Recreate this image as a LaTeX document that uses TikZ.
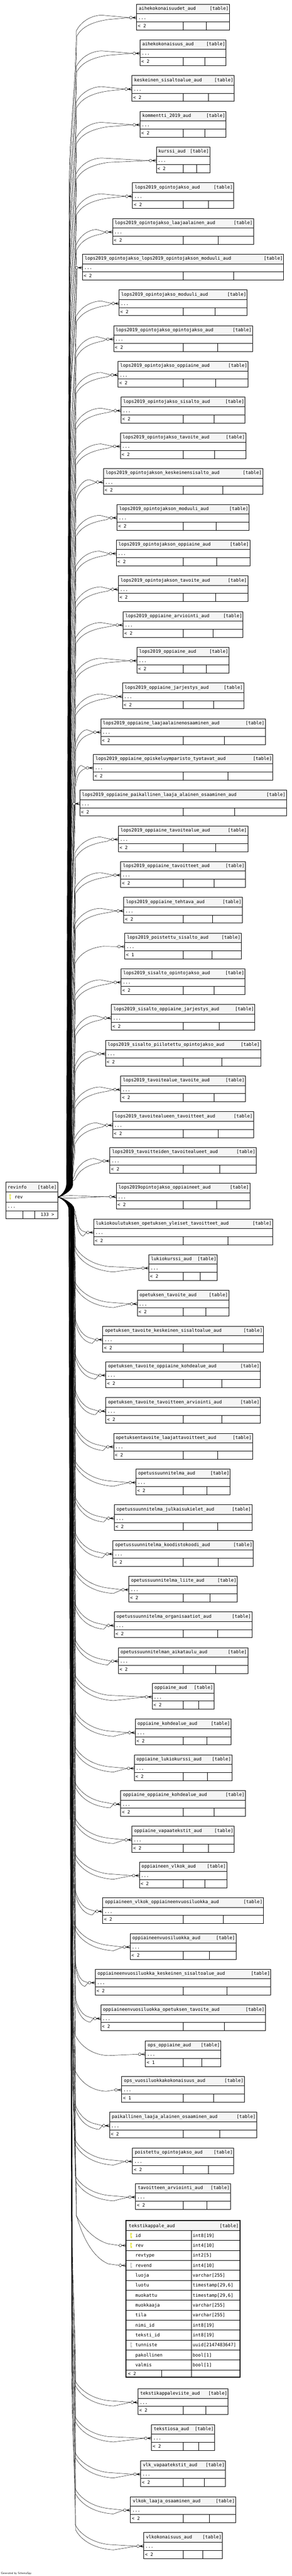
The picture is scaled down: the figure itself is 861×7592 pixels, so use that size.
\documentclass[tikz,border=0pt]{standalone}
\usepackage{fontspec}
\setmonofont{DejaVu Sans Mono}
\usetikzlibrary{calc}
\definecolor{hdr}{HTML}{F5F5F5}
\definecolor{keyy}{HTML}{DCDC00}
\definecolor{keyg}{HTML}{B4B4B4}
\tikzset{
 tline/.style={line width=0.9pt},
 conn/.style={line width=0.7pt},
 hdrbox/.style={draw, fill=hdr, line width=0.9pt, minimum height=28pt, inner sep=0pt, outer sep=0pt},
 rowbox/.style={draw, fill=white, line width=0.9pt, minimum height=24pt, inner sep=0pt, outer sep=0pt},
 txt/.style={font=\fontsize{13.3}{15}\selectfont\ttfamily, inner sep=0pt, outer sep=0pt},
}
\def\rskfoota{< 2}\def\rskfootb{< 2}\def\rskfoots{< 2}\def\rskfootv{< 2}
\def\rskfootu{< 1}\def\rskfootd{< 1}
\newcommand\rskkey[3]{%
  \fill[#3] (#1,#2+9.5) circle[radius=3];
  \fill[white] (#1,#2+9.5) circle[radius=1.3];
  \fill[#3] (#1-0.9,#2+12) rectangle (#1+0.9,#2+22);
  \fill[#3] (#1+0.9,#2+17) rectangle (#1+2.6,#2+18.6);
  \fill[#3] (#1+0.9,#2+20) rectangle (#1+2.6,#2+21.5);
}
\newcommand\rskcrow{%
  \draw[conn,fill=white] ($(\tid.west)+(-16.7,0)$) circle[radius=4];
  \draw[conn] ($(\tid.west)+(-12.7,0)$) -- (\tid.west);
  \draw[conn] ($(\tid.west)+(-11.5,0)$) -- ($(\tid.west)+(0,-4.5)$);
  \draw[conn] ($(\tid.west)+(-11.5,0)$) -- ($(\tid.west)+(0,4.5)$);
}
\newcommand\rskcrowfill{\fill ($(\tid.west)+(-12.5,0)$) -- ($(\tid.west)+(-5.5,-2.8)$) -- ($(\tid.west)+(-5.5,2.8)$) -- cycle;}
% edge going up from the bundle
\newcommand\rskup[8]{%
  \pgfmathsetmacro\ky{\tY+(#2)}%
  \pgfmathsetmacro\sy{max(\ky,min(3480,\ky+450))}%
  \pgfmathsetmacro\sx{\bx+#1+(3490-\sy)/349}%
  \pgfmathsetmacro\cd{(\sy-\ky)/3}%
  \pgfmathsetmacro\pax{\kx+#1+\ff*#3}\pgfmathsetmacro\pay{\tY+(#4)}%
  \pgfmathsetmacro\pbx{\kx+\ff*#5}\pgfmathsetmacro\pby{\tY+(#6)}%
  \pgfmathsetmacro\pcx{\kx+\ff*#7}\pgfmathsetmacro\pcy{\tY+(#8)}%
  \draw[conn] (rv.east) .. controls ($(rv.east)+(6,0)$) and (\bx+#1,3510) .. (\bx+#1,3490) -- (\sx,\sy)
     .. controls (\sx,\sy-\cd) and (\kx+#1,\ky+\cd) .. (\kx+#1,\ky)
     .. controls (\pax,\pay) and (\pbx,\pby) .. (\pcx,\pcy)
     -- ($(\tid.west)+(-20.7,0)$);
}
% edge going down from the bundle
\newcommand\rskdn[8]{%
  \pgfmathsetmacro\ky{\tY+(#2)}%
  \pgfmathsetmacro\sy{min(\ky,max(3575,\ky-450))}%
  \pgfmathsetmacro\sx{\bx+#1+(\sy-3565)/390}%
  \pgfmathsetmacro\cd{(\ky-\sy)/3}%
  \pgfmathsetmacro\pax{\kx+#1+\ff*#3}\pgfmathsetmacro\pay{\tY+(#4)}%
  \pgfmathsetmacro\pbx{\kx+\ff*#5}\pgfmathsetmacro\pby{\tY+(#6)}%
  \pgfmathsetmacro\pcx{\kx+\ff*#7}\pgfmathsetmacro\pcy{\tY+(#8)}%
  \draw[conn] (rv.east) .. controls ($(rv.east)+(6,0)$) and (\bx+#1,3545) .. (\bx+#1,3565) -- (\sx,\sy)
     .. controls (\sx,\sy+\cd) and (\kx+#1,\ky-\cd) .. (\kx+#1,\ky)
     .. controls (\pax,\pay) and (\pbx,\pby) .. (\pcx,\pcy)
     -- ($(\tid.west)+(-20.7,0)$);
}
\newcommand\rskupvars{%
  \pgfmathsetmacro\bx{196+\tT/3400*18}%
  \pgfmathsetmacro\kx{225-\tT/3400*5}%
  \pgfmathsetmacro\ff{min(1,max(0.12,(\tL-31-\kx)/95))}%
}
\newcommand\rskdnvars{%
  \pgfmathsetmacro\bx{218-(\tT-3592)/3872*15}%
  \def\kx{222}%
  \pgfmathsetmacro\ff{min(1,max(0.12,(\tL-253)/113))}%
}
\newcommand\rskedgea{\rskupvars
  \rskup{0}{40}{10}{18}{37}{-6}{75}{-7.4}%
  \rskup{1.5}{55}{12}{33}{37}{14}{95}{5.5}%
  \rskcrowfill}
\newcommand\rskedgeu{\rskupvars
  \rskup{0.7}{50}{11}{26}{37}{4}{85}{-1}}
\newcommand\rskedgeb{\rskdnvars
  \rskdn{0}{-64}{8}{-45}{40}{-12}{98}{-5}%
  \rskdn{1.5}{-48}{9}{-30}{40}{6}{113}{11}%
  \rskcrowfill}
\newcommand\rskedged{\rskdnvars
  \rskdn{0.7}{-55}{10}{-35}{40}{2}{98}{4}}
\newcommand\rskedges{%
  \draw[conn] (rv.east) .. controls ($(rv.east)+(30,-9)$) and ($(\tid.west)+(-100,0)$) .. ($(\tid.west)+(-20.7,0)$);
  \draw[conn] (rv.east) .. controls ($(rv.east)+(30,8)$) and ($(\tid.west)+(-100,0)$) .. ($(\tid.west)+(-20.7,0)$);
  \rskcrowfill}
\newcommand\rskvl[1]{%
  \pgfmathsetmacro\ky{\tY+4}%
  \pgfmathsetmacro\sy{\ky+450}%
  \pgfmathsetmacro\sx{\bx+#1+(3490-\sy)/349}%
  \pgfmathsetmacro\ex{\cx+#1*0.5}%
  \draw[conn] (rv.east) .. controls ($(rv.east)+(6,0)$) and (\bx+#1,3510) .. (\bx+#1,3490) -- (\sx,\sy)
     .. controls (\sx,\sy-150) and (\ex,\ky+150) .. (\ex,\ky);
}
\newcommand\rskedgev{%
  \pgfmathsetmacro\bx{196+\tT/3400*18}%
  \pgfmathsetmacro\cx{\tL-16.7}%
  \rskvl{0}\rskvl{1.2}\rskcrowfill}
% table: id, name, left, top, mode
\newcommand\tbl[5]{%
  \def\tid{#1}%
  \pgfmathsetmacro\tL{#3}%
  \pgfmathsetmacro\tT{#4}%
  \pgfmathsetmacro\tR{1081-\tL}%
  \pgfmathsetmacro\tM{(540.5+\tR)/2}%
  \pgfmathsetmacro\tW{\tR-\tL}%
  \pgfmathsetmacro\tY{\tT+40}%
  \node[hdrbox, minimum width=\tW pt, anchor=north west] (#1-h) at (\tL,\tT) {};
  \node[rowbox, minimum width=\tW pt, anchor=north west] (#1) at (\tL,\tT+28) {};
  \node[rowbox, minimum width=\tW pt, anchor=north west] (#1-f) at (\tL,\tT+52) {};
  \draw[tline] (540.5,\tT+52) -- (540.5,\tT+76);
  \draw[tline] (\tM,\tT+52) -- (\tM,\tT+76);
  \node[txt, anchor=base west] (#1-n) at (\tL+7,\tT+17.5) {#2};
  \node[txt, anchor=base east] (#1-k) at (\tR-2.5,\tT+17.5) {[table]};
  \node[txt, anchor=base west] (#1-d) at (\tL+5,\tT+45) {...};
  \node[txt, anchor=base west] (#1-c) at (\tL+4,\tT+69) {\csname rskfoot#5\endcsname};
  \csname rskedge#5\endcsname
  \rskcrow
}
\def\rsknone{none}
\newcommand\tkrow[4]{%
  \pgfmathsetmacro\rt{6573.7+29.34*(#1-1)}%
  \node[anchor=north west, minimum width=337pt, minimum height=29.34pt, inner sep=0pt, outer sep=0pt] (tk#1) at (372,\rt) {};
  \draw[tline] (372,\rt+29.34) -- (709,\rt+29.34);
  \node[txt, anchor=base west] (tk#1-n) at (400,\rt+19.5) {#2};
  \node[txt, anchor=base west] (tk#1-t) at (569.3,\rt+19.5) {#3};
  \def\rskarg{#4}\ifx\rskarg\rsknone\else\rskkey{387}{\rt}{#4}\fi
}
\begin{document}
\begin{tikzpicture}[x=1pt,y=-1pt]
\useasboundingbox (0,0) rectangle (861,7592);
\fill[white] (0,0) rectangle (861,7592);
% revinfo (parent)
\node[hdrbox, minimum width=153.4pt, minimum height=29pt, anchor=north west] (rv-h) at (17.3,3484) {};
\node[rowbox, minimum width=153.4pt, minimum height=30pt, anchor=north west] (rv) at (17.3,3513) {};
\node[rowbox, minimum width=153.4pt, minimum height=25pt, anchor=north west] (rv-d) at (17.3,3543) {};
\node[rowbox, minimum width=153.4pt, minimum height=23pt, anchor=north west] (rv-f) at (17.3,3568) {};
\draw[tline] (66.7,3568) -- (66.7,3591);
\draw[tline] (101.7,3568) -- (101.7,3591);
\node[txt, anchor=base west] (rv-n) at (22.7,3503) {revinfo};
\node[txt, anchor=base east] (rv-k) at (167.5,3503) {[table]};
\rskkey{30}{3513}{keyy}
\node[txt, anchor=base west] (rv-c) at (43.3,3533) {rev};
\node[txt, anchor=base west] (rv-dd) at (22,3560) {...};
\node[txt, anchor=base east] (rv-x) at (160,3584) {133 >};

\tbl{t1}{aihekokonaisuudet\_aud}{403.3}{12}{a}
\tbl{t2}{aihekokonaisuus\_aud}{413.3}{117.3}{a}
\tbl{t3}{keskeinen\_sisaltoalue\_aud}{389.3}{222.6}{a}
\tbl{t4}{kommentti\_2019\_aud}{413.3}{327.9}{a}
\tbl{t5}{kurssi\_aud}{461.3}{433.2}{a}
\tbl{t6}{lops2019\_opintojakso\_aud}{391.3}{538.5}{a}
\tbl{t7}{lops2019\_opintojakso\_laajaalainen\_aud}{332.3}{643.8}{a}
\tbl{t8}{lops2019\_opintojakso\_lops2019\_opintojakson\_moduuli\_aud}{243.3}{749.1}{v}
\tbl{t9}{lops2019\_opintojakso\_moduuli\_aud}{351.3}{854.4}{a}
\tbl{t10}{lops2019\_opintojakso\_opintojakso\_aud}{335.3}{959.7}{a}
\tbl{t11}{lops2019\_opintojakso\_oppiaine\_aud}{348.3}{1065}{a}
\tbl{t12}{lops2019\_opintojakso\_sisalto\_aud}{357.3}{1170.3}{a}
\tbl{t13}{lops2019\_opintojakso\_tavoite\_aud}{355.3}{1275.6}{a}
\tbl{t14}{lops2019\_opintojakson\_keskeinensisalto\_aud}{305.3}{1380.9}{a}
\tbl{t15}{lops2019\_opintojakson\_moduuli\_aud}{345.3}{1486.2}{a}
\tbl{t16}{lops2019\_opintojakson\_oppiaine\_aud}{343.3}{1591.5}{a}
\tbl{t17}{lops2019\_opintojakson\_tavoite\_aud}{349.3}{1696.8}{a}
\tbl{t18}{lops2019\_oppiaine\_arviointi\_aud}{363.3}{1802.1}{a}
\tbl{t19}{lops2019\_oppiaine\_aud}{404.3}{1907.4}{a}
\tbl{t20}{lops2019\_oppiaine\_jarjestys\_aud}{361.3}{2012.7}{a}
\tbl{t21}{lops2019\_oppiaine\_laajaalainenosaaminen\_aud}{297.3}{2118}{a}
\tbl{t22}{lops2019\_oppiaine\_opiskeluymparisto\_tyotavat\_aud}{275.3}{2223.3}{a}
\tbl{t23}{lops2019\_oppiaine\_paikallinen\_laaja\_alainen\_osaaminen\_aud}{235.3}{2328.6}{v}
\tbl{t24}{lops2019\_oppiaine\_tavoitealue\_aud}{349.3}{2433.9}{a}
\tbl{t25}{lops2019\_oppiaine\_tavoitteet\_aud}{356.3}{2539.2}{a}
\tbl{t26}{lops2019\_oppiaine\_tehtava\_aud}{365.3}{2644.5}{a}
\tbl{t27}{lops2019\_poistettu\_sisalto\_aud}{368.3}{2749.8}{u}
\tbl{t28}{lops2019\_sisalto\_opintojakso\_aud}{357.3}{2855.1}{a}
\tbl{t29}{lops2019\_sisalto\_oppiaine\_jarjestys\_aud}{328.3}{2960.4}{a}
\tbl{t30}{lops2019\_sisalto\_piilotettu\_opintojakso\_aud}{311.3}{3065.7}{a}
\tbl{t31}{lops2019\_tavoitealue\_tavoite\_aud}{356.3}{3171}{a}
\tbl{t32}{lops2019\_tavoitealueen\_tavoitteet\_aud}{332.3}{3276.3}{a}
\tbl{t33}{lops2019\_tavoitteiden\_tavoitealueet\_aud}{324.3}{3381.6}{a}
\tbl{t34}{lops2019opintojakso\_oppiaineet\_aud}{343.3}{3486.9}{s}
\tbl{t35}{lukiokoulutuksen\_opetuksen\_yleiset\_tavoitteet\_aud}{276.3}{3592.2}{b}
\tbl{t36}{lukiokurssi\_aud}{439.3}{3697.5}{b}
\tbl{t37}{opetuksen\_tavoite\_aud}{405.3}{3802.8}{b}
\tbl{t38}{opetuksen\_tavoite\_keskeinen\_sisaltoalue\_aud}{303.3}{3908.1}{b}
\tbl{t39}{opetuksen\_tavoite\_oppiaine\_kohdealue\_aud}{312.3}{4013.4}{b}
\tbl{t40}{opetuksen\_tavoite\_tavoitteen\_arviointi\_aud}{312.3}{4118.7}{b}
\tbl{t41}{opetuksentavoite\_laajattavoitteet\_aud}{335.3}{4224}{b}
\tbl{t42}{opetussuunnitelma\_aud}{401.3}{4329.3}{b}
\tbl{t43}{opetussuunnitelma\_julkaisukielet\_aud}{337.3}{4434.6}{b}
\tbl{t44}{opetussuunnitelma\_koodistokoodi\_aud}{333.3}{4539.9}{b}
\tbl{t45}{opetussuunnitelma\_liite\_aud}{380.3}{4645.2}{b}
\tbl{t46}{opetussuunnitelma\_organisaatiot\_aud}{337.3}{4750.5}{b}
\tbl{t47}{opetussuunnitelman\_aikataulu\_aud}{349.3}{4855.8}{b}
\tbl{t48}{oppiaine\_aud}{449.3}{4961.1}{b}
\tbl{t49}{oppiaine\_kohdealue\_aud}{399.3}{5066.4}{b}
\tbl{t50}{oppiaine\_lukiokurssi\_aud}{396.3}{5171.7}{b}
\tbl{t51}{oppiaine\_oppiaine\_kohdealue\_aud}{356.3}{5277}{b}
\tbl{t52}{oppiaine\_vapaatekstit\_aud}{389.3}{5382.3}{b}
\tbl{t53}{oppiaineen\_vlkok\_aud}{411.3}{5487.6}{b}
\tbl{t54}{oppiaineen\_vlkok\_oppiaineenvuosiluokka\_aud}{303.3}{5592.9}{b}
\tbl{t55}{oppiaineenvuosiluokka\_aud}{384.3}{5698.2}{b}
\tbl{t56}{oppiaineenvuosiluokka\_keskeinen\_sisaltoalue\_aud}{281.3}{5803.5}{b}
\tbl{t57}{oppiaineenvuosiluokka\_opetuksen\_tavoite\_aud}{297.3}{5908.8}{b}
\tbl{t58}{ops\_oppiaine\_aud}{429.3}{6014.1}{d}
\tbl{t59}{ops\_vuosiluokkakokonaisuus\_aud}{359.3}{6119.4}{d}
\tbl{t60}{paikallinen\_laaja\_alainen\_osaaminen\_aud}{323.3}{6224.7}{b}
\tbl{t61}{poistettu\_opintojakso\_aud}{391.3}{6330}{b}
\tbl{t62}{tavoitteen\_arviointi\_aud}{400.3}{6435.3}{b}
\tbl{t64}{tekstikappaleviite\_aud}{407.3}{7040}{b}
\tbl{t65}{tekstiosa\_aud}{447.3}{7146}{b}
\tbl{t66}{vlk\_vapaatekstit\_aud}{415.3}{7252}{b}
\tbl{t67}{vlkok\_laaja\_osaaminen\_aud}{385.3}{7358}{b}
\tbl{t68}{vlkokonaisuus\_aud}{424.3}{7464}{b}

% tekstikappale_aud (focus table)
\fill[white] (372,6545) rectangle (709,7006);
\fill[hdr] (372,6545) rectangle (709,6573.7);
\draw[tline] (372,6573.7) -- (709,6573.7);
\node[txt, anchor=base west] (tk-n) at (380.7,6564) {tekstikappale\_aud};
\node[txt, anchor=base east] (tk-k) at (705,6564) {[table]};
\tkrow{1}{id}{int8[19]}{keyy}
\tkrow{2}{rev}{int4[10]}{keyy}
\tkrow{3}{revtype}{int2[5]}{none}
\tkrow{4}{revend}{int4[10]}{keyg}
\tkrow{5}{luoja}{varchar[255]}{none}
\tkrow{6}{luotu}{timestamp[29,6]}{none}
\tkrow{7}{muokattu}{timestamp[29,6]}{none}
\tkrow{8}{muokkaaja}{varchar[255]}{none}
\tkrow{9}{tila}{varchar[255]}{none}
\tkrow{10}{nimi\_id}{int8[19]}{none}
\tkrow{11}{teksti\_id}{int8[19]}{none}
\tkrow{12}{tunniste}{uuid[2147483647]}{keyg}
\tkrow{13}{pakollinen}{bool[1]}{none}
\tkrow{14}{valmis}{bool[1]}{none}
\draw[tline] (565.7,6573.7) -- (565.7,7006);
\draw[tline] (477,6984.4) -- (477,7006);
\node[txt, anchor=base west] (tk-c) at (378,7001) {< 2};
\node[draw, line width=3.3pt, anchor=north west, minimum width=336.3pt, minimum height=461.7pt, inner sep=0pt, outer sep=0pt] (tk) at (372.35,6544.65) {};
% edges to tekstikappale_aud
\pgfmathsetmacro\bx{218-(6543-3592)/3872*15}
\pgfmathsetmacro\bxa{\bx+7.7}
\pgfmathsetmacro\bxb{\bx+1.5}
\pgfmathsetmacro\bxc{\bx+9.2}
\draw[conn] (rv.east) .. controls ($(rv.east)+(6,0)$) and (\bx,3545) .. (\bx,3565) -- (\bxa,6080)
   .. controls (\bxa,6230) and (225,6380) .. (225,6530)
   .. controls (245,6565) and (280,6602) .. (320,6613) -- ($(tk2.west)+(-20.7,0)$);
\draw[conn] (rv.east) .. controls ($(rv.east)+(6,0)$) and (\bxb,3545) .. (\bxb,3565) -- (\bxc,6080)
   .. controls (\bxc,6230) and (226,6380) .. (226,6530)
   .. controls (240,6580) and (268,6650) .. (320,6672) -- ($(tk4.west)+(-20.7,0)$);
\def\tid{tk2}\rskcrow
\def\tid{tk4}\rskcrow
\node[anchor=base west, inner sep=0pt, font=\fontsize{8}{9}\selectfont\sffamily] (gen) at (3,7586) {Generated by SchemaSpy};
\end{tikzpicture}
\end{document}
